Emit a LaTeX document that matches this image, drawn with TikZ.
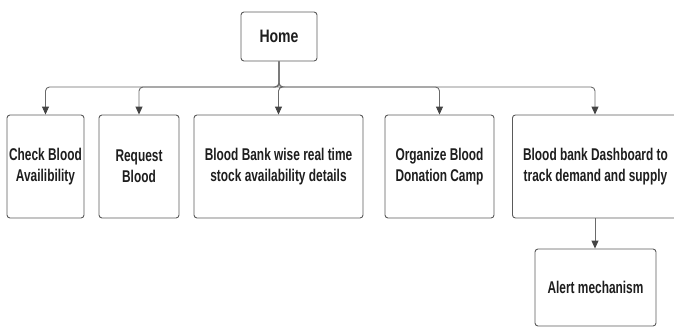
\documentclass[tikz,border=0pt]{standalone}
\usepackage{fontspec}
\setmainfont{Liberation Sans}[FakeStretch=0.7]
\newfontfamily\homefont{Liberation Sans}[FakeStretch=0.78]
\usetikzlibrary{arrows.meta}
\definecolor{linegray}{HTML}{6A6A6A}
\definecolor{boxgray}{HTML}{5A5A5A}
\definecolor{tipgray}{HTML}{444444}
\definecolor{txt}{HTML}{1E1E1E}
\tikzset{
  box/.style={draw=boxgray, line width=0.9pt, rounded corners=3pt, fill=white,
    align=center, text=txt, inner sep=2pt,
    font=\fontsize{17}{21}\selectfont\bfseries, minimum height=103pt},
  conn/.style={draw=linegray, line width=0.9pt, rounded corners=4pt,
    -{Triangle[length=8pt,width=7pt,fill=tipgray,color=tipgray]}}
}
\begin{document}
\begin{tikzpicture}[x=1pt,y=-1pt]
\useasboundingbox (0,0) rectangle (674,327);
\clip (0,0) rectangle (674,327);
\node[box, minimum width=76pt, minimum height=49pt, font=\homefont\fontsize{18}{21}\selectfont\bfseries] (home) at (279,36.5) {Home};
\node[box, minimum width=77pt] (b1) at (45.5,166.5) {Check Blood\\Availibility};
\node[box, minimum width=80pt] (b2) at (139,166.5) {Request\\Blood};
\node[box, minimum width=169pt] (b3) at (278.5,166.5) {Blood Bank wise real time\\stock availability details};
\node[box, minimum width=109pt] (b4) at (439.5,166.5) {Organize Blood\\Donation Camp};
\node[box, anchor=west] (b5) at (512,166.5) {\parbox{162pt}{\centering Blood bank Dashboard to\\track demand and supply}\hspace{30pt}};
\coordinate (b5top) at ([xshift=83pt]b5.north west);
\coordinate (b5bot) at ([xshift=83pt]b5.south west);
\node[box, minimum width=121pt, minimum height=77pt] (alert) at (595.5,287.5) {Alert mechanism};
\coordinate (bus) at (0,87);
\foreach \c in {b1.north,b2.north,b3.north,b4.north,b5top}{
  \draw[conn] (home.south) -- (home.south |- bus) -| (\c);
}
\draw[conn] (b5bot) -- (b5bot |- alert.north);
\end{tikzpicture}
\end{document}
